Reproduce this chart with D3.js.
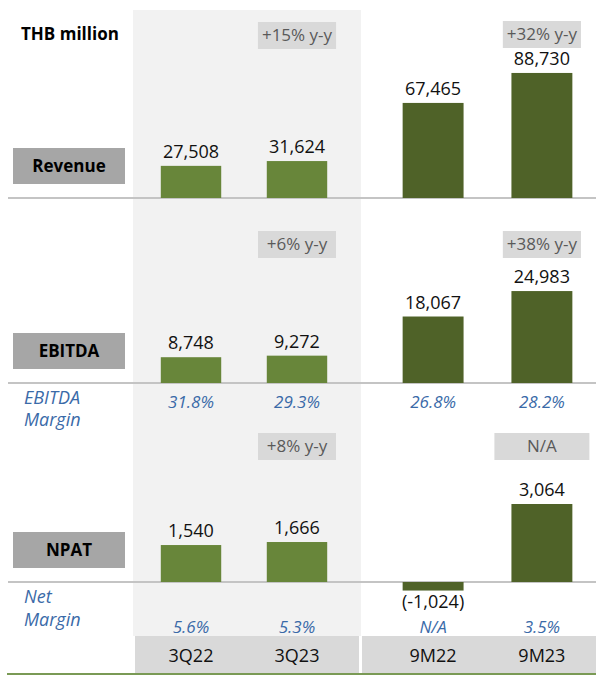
<!DOCTYPE html>
<html>
<head>
<meta charset="utf-8">
<script src="https://cdn.jsdelivr.net/npm/d3@7"></script>
<style>
  body { margin: 0; background: #fff; }
  text { font-family: "Open Sans", sans-serif; }
</style>
</head>
<body>
<svg width="596" height="675"></svg>
<script>
// data
var periods = ["3Q22", "3Q23", "9M22", "9M23"];
var quarterPeriods = ["3Q22", "3Q23"];
var ninePeriods = ["9M22", "9M23"];

var revenue = [27508, 31624, 67465, 88730];
var ebitda = [8748, 9272, 18067, 24983];
var npat = [1540, 1666, -1024, 3064];

var revenueGrowth = ["+15% y-y", "+32% y-y"];
var ebitdaGrowth = ["+6% y-y", "+38% y-y"];
var npatGrowth = ["+8% y-y", "N/A"];

var ebitdaMargin = ["31.8%", "29.3%", "26.8%", "28.2%"];
var netMargin = ["5.6%", "5.3%", "N/A", "3.5%"];

var svg = d3.select("svg");
var width = +svg.attr("width");

var qColor = "#68863a";
var nineColor = "#4f6228";
var fmt = d3.format(",");
function label(v) {
    // excel style: negatives in brackets, plain hyphen
    return v < 0 ? "(-" + fmt(-v) + ")" : fmt(v);
}

// shaded quarter panel
svg.append("rect")
    .attr("x", 133).attr("y", 10)
    .attr("width", 228).attr("height", 626)
    .attr("fill", "#f2f2f2");

svg.append("text")
    .attr("x", 21).attr("y", 40)
    .attr("font-size", 17)
    .attr("font-weight", "bold")
    .text("THB million");

var xQ = d3.scaleBand().domain(quarterPeriods).range([129, 359]).paddingInner(0.43).paddingOuter(0.3);
var x9 = d3.scaleBand().domain(ninePeriods).range([370, 605]).paddingInner(0.44).paddingOuter(0.3);
function xPos(p) { return quarterPeriods.indexOf(p) >= 0 ? xQ(p) : x9(p); }
function bw(p) { return quarterPeriods.indexOf(p) >= 0 ? xQ.bandwidth() : x9.bandwidth(); }
function cx(p) { return xPos(p) + bw(p) / 2; }

// each row is a separate small chart, with its own axis maxima
var rows = [
    {name: "Revenue", values: revenue, growth: revenueGrowth, base: 198, growthY: [22, 21],
     yQ: d3.scaleLinear().domain([0, 107000]).range([198, 73]),
     y9: d3.scaleLinear().domain([0, 88700]).range([198, 73])},
    {name: "EBITDA", values: ebitda, growth: ebitdaGrowth, base: 383, growthY: [231, 231],
     margin: ebitdaMargin, marginTitle: ["EBITDA", "Margin"], marginTitleY: [404, 426], marginY: 408,
     yQ: d3.scaleLinear().domain([0, 31200]).range([383, 291]),
     y9: d3.scaleLinear().domain([0, 25000]).range([383, 291])},
    {name: "NPAT", values: npat, growth: npatGrowth, base: 582, growthY: [433, 433],
     margin: netMargin, marginTitle: ["Net", "Margin"], marginTitleY: [603, 626], marginY: 633,
     yQ: d3.scaleLinear().domain([0, 3250]).range([582, 504]),
     y9: d3.scaleLinear().domain([-3000, 0, 3064]).range([607, 582, 504])}
];

rows.forEach(function(r) {
    var g = svg.append("g");
    var data = periods.map(function(p, i) { return {period: p, value: r.values[i], nine: i >= 2}; });
    function y(d) { return d.nine ? r.y9(d.value) : r.yQ(d.value); }

    g.append("line")
        .attr("x1", 8).attr("x2", width)
        .attr("y1", r.base).attr("y2", r.base)
        .attr("stroke", "#c4c4c4").attr("stroke-width", 2);

    g.selectAll(".bar")
        .data(data)
        .enter()
        .append("rect")
        .attr("class", "bar")
        .attr("x", function(d) { return xPos(d.period); })
        .attr("width", function(d) { return bw(d.period); })
        .attr("y", function(d) { return Math.min(y(d), r.base); })
        .attr("height", function(d) { return Math.abs(y(d) - r.base); })
        .attr("fill", function(d) { return d.nine ? nineColor : qColor; });

    g.selectAll(".val")
        .data(data)
        .enter()
        .append("text")
        .attr("class", "val")
        .attr("x", function(d) { return cx(d.period); })
        .attr("y", function(d) { return d.value < 0 ? y(d) + 17 : y(d) - 8; })
        .attr("text-anchor", "middle")
        .attr("font-size", 18)
        .attr("fill", "#111")
        .text(function(d) { return label(d.value); });

    // row label box
    g.append("rect")
        .attr("x", 13).attr("y", r.base - 50)
        .attr("width", 112).attr("height", 36)
        .attr("fill", "#a6a6a6");
    g.append("text")
        .attr("x", 69).attr("y", r.base - 26)
        .attr("text-anchor", "middle")
        .attr("font-size", 17).attr("font-weight", "bold")
        .text(r.name);

    // growth boxes over the latest period of each group
    [quarterPeriods[1], ninePeriods[1]].forEach(function(p, i) {
        var txt = r.growth[i];
        var box = g.append("rect")
            .attr("y", r.growthY[i])
            .attr("height", 27)
            .attr("fill", "#d9d9d9");
        var t = g.append("text")
            .attr("x", cx(p)).attr("y", r.growthY[i] + 19)
            .attr("text-anchor", "middle")
            .attr("font-size", 17)
            .attr("fill", "#595959")
            .text(txt);
        var w = Math.max(t.node().getComputedTextLength() + 8, txt == "N/A" ? 95 : 78);
        box.attr("x", cx(p) - w / 2).attr("width", w);
    });

    if (r.margin) {
        g.selectAll(".mtitle")
            .data(r.marginTitle)
            .enter()
            .append("text")
            .attr("x", 24)
            .attr("y", function(d, i) { return r.marginTitleY[i]; })
            .attr("font-size", 18).attr("font-style", "italic")
            .attr("fill", "#3a6aa8")
            .text(function(d) { return d; });
        g.selectAll(".margin")
            .data(periods)
            .enter()
            .append("text")
            .attr("x", function(p) { return cx(p); })
            .attr("y", r.marginY)
            .attr("text-anchor", "middle")
            .attr("font-size", 17).attr("font-style", "italic")
            .attr("fill", "#3a6aa8")
            .text(function(p, i) { return r.margin[i]; });
    }
});

// category band
svg.append("rect").attr("x", 135).attr("y", 636).attr("width", 224).attr("height", 37).attr("fill", "#d9d9d9");
svg.append("rect").attr("x", 362).attr("y", 636).attr("width", width - 362).attr("height", 37).attr("fill", "#d9d9d9");
svg.selectAll(".cat")
    .data(periods)
    .enter()
    .append("text")
    .attr("class", "cat")
    .attr("x", function(p) { return cx(p); })
    .attr("y", 662)
    .attr("text-anchor", "middle")
    .attr("font-size", 18)
    .attr("fill", "#111")
    .text(function(p) { return p; });

svg.append("line")
    .attr("x1", 7).attr("x2", width)
    .attr("y1", 674).attr("y2", 674)
    .attr("stroke", "#7a9a55").attr("stroke-width", 2);
</script>
</body>
</html>
